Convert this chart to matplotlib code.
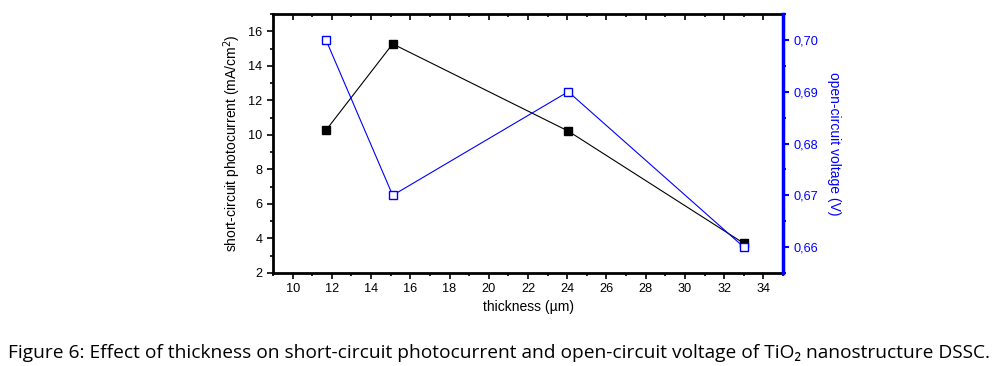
import numpy as np
import matplotlib
matplotlib.use('Agg')
import matplotlib.pyplot as plt
from matplotlib.ticker import MultipleLocator, FuncFormatter

plt.rcParams['font.family'] = ['Liberation Sans', 'DejaVu Sans']

# data
thickness = [11.7, 15.1, 24.05, 33.0]
jsc = [10.27, 15.27, 10.22, 3.72]          # mA/cm2
voc_thick = [11.7, 15.1, 24.05, 33.0]
voc = [0.700, 0.670, 0.690, 0.660]         # V

fig = plt.figure(figsize=(9.99, 3.66), dpi=100)
ax = fig.add_axes([0.2733, 0.2541, 0.5105, 0.7076])

ax.plot(thickness, jsc, color='black', lw=0.8, marker='s', ms=6,
        mfc='black', mec='black')
ax.set_xlim(9, 35)
ax.set_ylim(2, 17)
ax.xaxis.set_major_locator(MultipleLocator(2))
ax.xaxis.set_minor_locator(MultipleLocator(1))
ax.yaxis.set_major_locator(MultipleLocator(2))
ax.yaxis.set_minor_locator(MultipleLocator(1))
ax.tick_params(which='major', direction='out', length=4, width=1.2, labelsize=9.2)
ax.tick_params(which='minor', direction='out', length=2.5, width=1.2)
for s in ['left', 'bottom', 'top']:
    ax.spines[s].set_linewidth(2)
ax.set_xlabel('thickness (µm)', fontsize=10, labelpad=3)
ax.set_ylabel('short-circuit photocurrent (mA/cm$^2$)', fontsize=10, labelpad=4)

ax2 = ax.twinx()
ax2.plot(voc_thick, voc, color='blue', lw=0.8, marker='s', ms=6,
         mfc='white', mec='blue', mew=1.0)
ax2.set_ylim(0.655, 0.705)
ax2.yaxis.set_major_locator(MultipleLocator(0.01))
ax2.yaxis.set_minor_locator(MultipleLocator(0.005))
ax2.yaxis.set_major_formatter(FuncFormatter(lambda v, p: f'{v:.2f}'.replace('.', ',')))
ax2.tick_params(which='major', direction='out', length=4, width=1.5, colors='blue', labelsize=9.2)
ax2.tick_params(which='minor', direction='out', length=2.5, width=1.5, colors='blue')
ax2.spines['right'].set_color('blue')
ax2.spines['right'].set_linewidth(2.5)
for s in ['left', 'bottom', 'top']:
    ax2.spines[s].set_visible(False)
ax2.set_ylabel('open-circuit voltage (V)', color='blue', fontsize=10, rotation=270, labelpad=16)

# top axis ticks point inwards
ax.tick_params(axis='x', which='both', top=True, labeltop=False)
for t in ax.xaxis.get_major_ticks() + ax.xaxis.get_minor_ticks():
    t.tick2line.set_marker(3)

fig.text(0.5, 0.036, 'Figure 6: Effect of thickness on short-circuit photocurrent and open-circuit voltage of TiO\u2082 nanostructure DSSC.',
         ha='center', va='center', fontsize=13.8, family=['Open Sans', 'DejaVu Sans'])

fig.savefig('out.png', dpi=100)
